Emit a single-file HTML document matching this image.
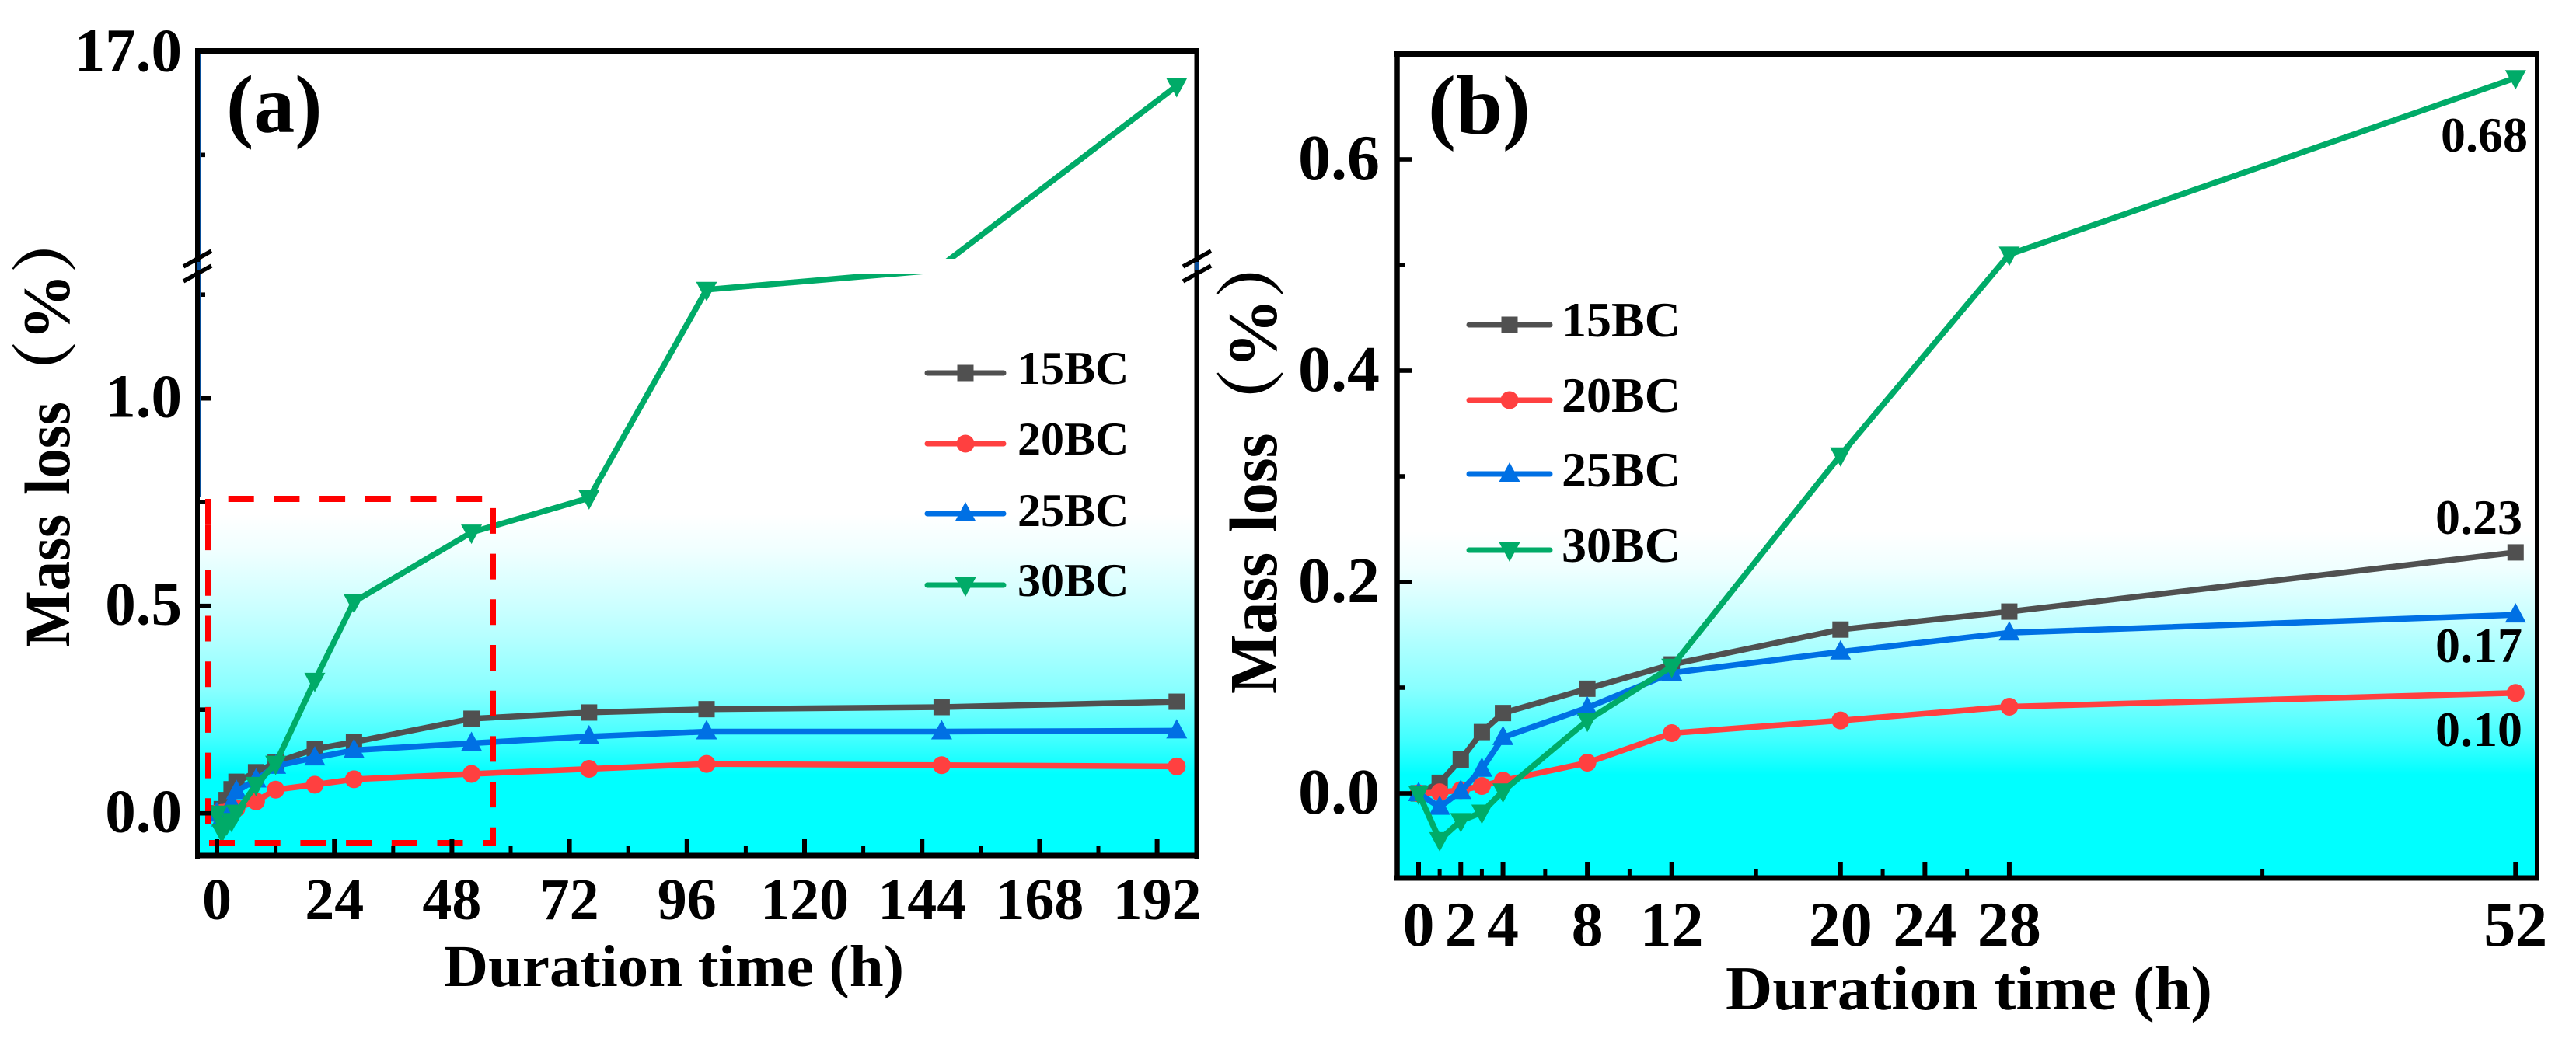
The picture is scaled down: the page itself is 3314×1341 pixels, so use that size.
<!DOCTYPE html>
<html lang="en">
<head>
<meta charset="utf-8">
<title>Mass loss vs duration time</title>
<style>
html,body{margin:0;padding:0;background:#fff;}
svg{display:block;}
text{font-family:"Liberation Serif","Noto Serif CJK SC",serif;font-weight:bold;fill:#000;}
</style>
</head>
<body>
<svg id="fig" xmlns="http://www.w3.org/2000/svg" width="3314" height="1341" viewBox="0 0 3314 1341">
  <defs>
    <linearGradient id="gradA" gradientUnits="userSpaceOnUse" x1="0" y1="662" x2="0" y2="1000">
      <stop offset="0" stop-color="#ffffff"/>
      <stop offset="0.14" stop-color="#f0ffff"/>
      <stop offset="0.35" stop-color="#ccffff"/>
      <stop offset="0.47" stop-color="#b5ffff"/>
      <stop offset="0.67" stop-color="#88ffff"/>
      <stop offset="0.86" stop-color="#40ffff"/>
      <stop offset="0.99" stop-color="#00ffff"/>
    </linearGradient>
    <linearGradient id="gradB" gradientUnits="userSpaceOnUse" x1="0" y1="684" x2="0" y2="1000">
      <stop offset="0" stop-color="#ffffff"/>
      <stop offset="0.15" stop-color="#f0ffff"/>
      <stop offset="0.33" stop-color="#ccffff"/>
      <stop offset="0.43" stop-color="#b5ffff"/>
      <stop offset="0.64" stop-color="#88ffff"/>
      <stop offset="0.85" stop-color="#40ffff"/>
      <stop offset="0.99" stop-color="#00ffff"/>
    </linearGradient>
    <clipPath id="clipLowerA"><rect x="258" y="352.5" width="1279" height="745"/></clipPath>
    <clipPath id="clipUpperA"><rect x="258" y="69" width="1279" height="264"/></clipPath>
    <clipPath id="clipB"><rect x="1801" y="73" width="1460" height="1053"/></clipPath>
  </defs>

  <g id="panelA">
    <rect x="255" y="65" width="1285" height="1036" fill="url(#gradA)"/>
    <g id="seriesA"></g>
    <path d="M268 675 L268 642 L634 642 L634 1085 L268 1085 Z" fill="none" stroke="#ff0000" stroke-width="8" stroke-dasharray="33 25.7"/>
    <g id="ticksA"></g>
    <g fill="none" stroke="#000">
      <path d="M254 62 V1105" stroke-width="6"/>
      <path d="M258 69 V640" stroke="#0a4f9a" stroke-width="2"/>
      <path d="M1539.5 62 V1105" stroke-width="6"/>
      <path d="M251 65.5 H1543" stroke-width="7"/>
      <path d="M251 1101 H1543" stroke-width="7"/>
      <rect x="254" y="337" width="4" height="11" fill="#0a4f9a" stroke="none"/>
      <rect x="1537" y="337" width="5" height="11" fill="#0a4f9a" stroke="none"/>
      <path d="M236 343 L272 323 M236 362 L272 342" stroke-width="5.5"/>
      <path d="M1522 343 L1558 323 M1522 362 L1558 342" stroke-width="5.5"/>
    </g>
    <text x="291" y="170" font-size="106">(a)</text>
    <text x="571" y="1269" font-size="76" textLength="592" lengthAdjust="spacingAndGlyphs">Duration time (h)</text>
    <text transform="translate(89 833) rotate(-90) scale(1 1.08)" font-size="77">Mass</text>
    <text transform="translate(89 637) rotate(-90) scale(1 1.08)" font-size="77">loss</text>
    <text transform="translate(89 524) rotate(-90)" font-size="86">（%）</text>
    <g id="legendA"></g>
  </g>

  <g id="panelB">
    <rect x="1797" y="69" width="1467" height="1061" fill="url(#gradB)"/>
    <g id="seriesB" clip-path="url(#clipB)"></g>
    <g id="ticksB"></g>
    <g fill="none" stroke="#000">
      <path d="M1797.5 66 V1133.5" stroke-width="6.5"/>
      <path d="M3264 66 V1133.5" stroke-width="6"/>
      <path d="M1794 69.5 H3267" stroke-width="7"/>
      <path d="M1794 1130 H3267" stroke-width="7"/>
    </g>
    <text x="1837" y="172" font-size="108">(b)</text>
    <text x="2220" y="1299" font-size="80" textLength="626" lengthAdjust="spacingAndGlyphs">Duration time (h)</text>
    <text transform="translate(1642 893) rotate(-90) scale(1 1.06)" font-size="82">Mass</text>
    <text transform="translate(1642 685) rotate(-90) scale(1 1.06)" font-size="82">loss</text>
    <text transform="translate(1642 564) rotate(-90)" font-size="90">（%）</text>
    <text x="3140" y="195" font-size="64">0.68</text>
    <text x="3133" y="687" font-size="64">0.23</text>
    <text x="3133" y="852" font-size="64">0.17</text>
    <text x="3133" y="960" font-size="64">0.10</text>
    <g id="legendB"></g>
  </g>
</svg>

<script>
// ---------- chart data ----------
const seriesNames = ['15BC', '20BC', '25BC', '30BC'];

const hoursA = [0, 1, 2, 3, 4, 8, 12, 20, 28, 52, 76, 100, 148, 196];
const a15BC = [0, 0.010, 0.032, 0.058, 0.076, 0.099, 0.122, 0.155, 0.172, 0.228, 0.243, 0.251, 0.256, 0.269];
const a20BC = [0, 0.001, 0.003, 0.007, 0.012, 0.029, 0.057, 0.069, 0.082, 0.095, 0.107, 0.119, 0.116, 0.113];
const a25BC = [0, -0.013, 0.002, 0.023, 0.053, 0.081, 0.114, 0.134, 0.152, 0.169, 0.185, 0.197, 0.197, 0.199];
const a30BC = [0, -0.044, -0.026, -0.018, 0.002, 0.069, 0.120, 0.320, 0.510, 0.677, 0.760, 1.262, 1.310, 14.45];

const hoursB = [0, 1, 2, 3, 4, 8, 12, 20, 28, 52];
const b15BC = [0, 0.010, 0.032, 0.058, 0.076, 0.099, 0.122, 0.155, 0.172, 0.228];
const b20BC = [0, 0.001, 0.003, 0.007, 0.012, 0.029, 0.057, 0.069, 0.082, 0.095];
const b25BC = [0, -0.013, 0.002, 0.023, 0.053, 0.081, 0.114, 0.134, 0.152, 0.169];
const b30BC = [0, -0.044, -0.026, -0.018, 0.002, 0.069, 0.120, 0.320, 0.510, 0.677];

const xMajorA = [0, 24, 48, 72, 96, 120, 144, 168, 192];
const xMinorA = [12, 36, 60, 84, 108, 132, 156, 180];
const yMajorA = [0, 0.5, 1];
const yMinorA = [0.25, 0.75, 1.25];
const yTopLabelA = 17;
const yUpperMinorA = [9.4];

const xMajorB = [0, 2, 4, 8, 12, 20, 24, 28, 52];
const xMinorB = [1, 3, 6, 10, 16, 22, 26, 40];
const yMajorB = [0, 0.2, 0.4, 0.6];
const yMinorB = [0.1, 0.3, 0.5];

// ---------- axis functions ----------
const xA = h => 279 + 6.30 * h;
const yLowerA = v => 1046.7 - 534 * v;
const UPPER_BASE_A = 1.8;
const yUpperA = v => 333 - (v - UPPER_BASE_A) * (333 - 65.6) / (17 - UPPER_BASE_A);
const xB = h => 1825 + 27.14 * h;
const yB = v => 1021 - 1360 * v;

const colors = ['#505050', '#ff4040', '#0070e4', '#00ab68'];
const NS = 'http://www.w3.org/2000/svg';

function mk(tag, parent, attrs) {
  const el = document.createElementNS(NS, tag);
  for (const k in attrs) el.setAttribute(k, attrs[k]);
  parent.appendChild(el);
  return el;
}

function marker(parent, kind, x, y, color, name) {
  let el;
  if (kind === 0) {
    el = mk('rect', parent, {x: x - 10.5, y: y - 10.5, width: 21, height: 21, fill: color});
  } else if (kind === 1) {
    el = mk('circle', parent, {cx: x, cy: y, r: 11.5, fill: color});
  } else if (kind === 2) {
    el = mk('path', parent, {d: `M${x} ${y - 15} L${x + 13.5} ${y + 10} H${x - 13.5} Z`, fill: color});
  } else {
    el = mk('path', parent, {d: `M${x} ${y + 15} L${x + 13.5} ${y - 10} H${x - 13.5} Z`, fill: color});
  }
  
  
  return el;
}

function linePath(hours, vals, fx, fy) {
  return hours.map((h, i) => (i ? 'L' : 'M') + fx(h).toFixed(1) + ' ' + fy(vals[i]).toFixed(1)).join(' ');
}

// ---------- panel a series (broken axis) ----------
const seriesGroupA = document.getElementById('seriesA');
const lowerA = mk('g', seriesGroupA, {'clip-path': 'url(#clipLowerA)'});


const upperA = mk('g', seriesGroupA, {'clip-path': 'url(#clipUpperA)'});



[a15BC, a20BC, a25BC, a30BC].forEach((vals, s) => {
  const low = mk('path', lowerA, {d: linePath(hoursA, vals, xA, yLowerA), fill: 'none', stroke: colors[s], 'stroke-width': 7.5, 'stroke-linejoin': 'round'});
  
  
  const up = mk('path', upperA, {d: linePath(hoursA, vals, xA, yUpperA), fill: 'none', stroke: colors[s], 'stroke-width': 7.5, 'stroke-linejoin': 'round'});
  
  
  hoursA.forEach((h, i) => {
    const v = vals[i];
    const name = 'point-a-' + seriesNames[s].toLowerCase() + '-' + h + 'h';
    if (v <= 1.3) marker(lowerA, s, xA(h), yLowerA(v), colors[s], name);
    else if (v >= UPPER_BASE_A) marker(upperA, s, xA(h), yUpperA(v), colors[s], name);
  });
});

// ---------- panel b series ----------
const seriesGroupB = document.getElementById('seriesB');
[b15BC, b20BC, b25BC, b30BC].forEach((vals, s) => {
  const ln = mk('path', seriesGroupB, {d: linePath(hoursB, vals, xB, yB), fill: 'none', stroke: colors[s], 'stroke-width': 7.5, 'stroke-linejoin': 'round'});
  
  
  hoursB.forEach((h, i) => {
    marker(seriesGroupB, s, xB(h), yB(vals[i]), colors[s], 'point-b-' + seriesNames[s].toLowerCase() + '-' + h + 'h');
  });
});

// ---------- ticks and tick labels ----------
function xTicks(group, major, minor, fx, bottom, labelY, fontSize, prefix) {
  major.forEach(h => {
    const t = mk('rect', group, {x: fx(h) - 3, y: bottom - 18, width: 6, height: 18, fill: '#000'});
    
    
    const l = mk('text', group, {x: fx(h), y: labelY, 'font-size': fontSize, 'text-anchor': 'middle'});
    l.textContent = String(h);
    
    
  });
  minor.forEach(h => {
    const t = mk('rect', group, {x: fx(h) - 2.5, y: bottom - 9, width: 5, height: 9, fill: '#000'});
    
    
  });
}

function yTick(group, y, left, len, prefix, v) {
  const t = mk('rect', group, {x: left, y: y - 2.8, width: len, height: 5.6, fill: '#000'});
  
  
}

function yLabel(group, y, right, fontSize, text, prefix) {
  const l = mk('text', group, {x: right, y: y, 'font-size': fontSize, 'text-anchor': 'end'});
  l.textContent = text;
  
  
}

const ticksA = document.getElementById('ticksA');
xTicks(ticksA, xMajorA, xMinorA, xA, 1098, 1183, 76, 'panel-a');
yMajorA.forEach(v => {
  yTick(ticksA, yLowerA(v), 256, 16, 'panel-a', v);
  yLabel(ticksA, yLowerA(v) + 24, 234, 79, v.toFixed(1), 'panel-a');
});
yMinorA.forEach(v => yTick(ticksA, yLowerA(v), 256, 8, 'panel-a-minor', v));
yUpperMinorA.forEach(v => yTick(ticksA, yUpperA(v), 256, 8, 'panel-a-upper-minor', v));
yLabel(ticksA, yUpperA(yTopLabelA) + 26, 234, 79, yTopLabelA.toFixed(1), 'panel-a');

const ticksB = document.getElementById('ticksB');
xTicks(ticksB, xMajorB, xMinorB, xB, 1127, 1217, 82, 'panel-b');
yMajorB.forEach(v => {
  yTick(ticksB, yB(v), 1800, 16, 'panel-b', v);
  yLabel(ticksB, yB(v) + 26, 1775, 84, v.toFixed(1), 'panel-b');
});
yMinorB.forEach(v => yTick(ticksB, yB(v), 1800, 8, 'panel-b-minor', v));

// ---------- legends ----------
function legend(group, x1, x2, ys, textX, baselines, fontSize, prefix) {
  seriesNames.forEach((nm, s) => {
    const ln = mk('line', group, {x1: x1, x2: x2, y1: ys[s], y2: ys[s], stroke: colors[s], 'stroke-width': 7, 'stroke-linecap': 'round'});
    
    
    marker(group, s, (x1 + x2) / 2, ys[s], colors[s], prefix + '-legend-marker-' + nm.toLowerCase());
    const t = mk('text', group, {x: textX, y: baselines[s], 'font-size': fontSize});
    t.textContent = nm;
    
    
  });
}
legend(document.getElementById('legendA'), 1193, 1291, [480, 571, 661, 753], 1309, [494, 585, 677, 767], 60, 'panel-a');
legend(document.getElementById('legendB'), 1890, 1994, [418, 515, 610, 708], 2009, [433, 530, 626, 723], 64, 'panel-b');
</script>
</body>
</html>
